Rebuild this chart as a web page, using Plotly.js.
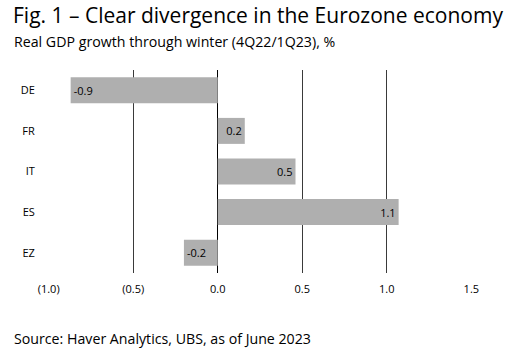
<!DOCTYPE html>
<html>
<head>
<meta charset="utf-8">
<script src="https://cdn.plot.ly/plotly-3.0.1.min.js"></script>
<style>html,body{margin:0;padding:0;background:#fff;}#chart{width:528px;height:363px;}</style>
</head>
<body>
<div id="chart"></div>
<script>
const countries = ["DE", "FR", "IT", "ES", "EZ"];
const growth = [-0.87, 0.16, 0.46, 1.07, -0.2];
const tickValues = [-1.0, -0.5, 0.0, 0.5, 1.0, 1.5];
const tickLabels = ["(1.0)", "(0.5)", "0.0", "0.5", "1.0", "1.5"];
const titleText = "Fig. 1 – Clear divergence in the Eurozone economy";
const subtitleText = "Real GDP growth through winter (4Q22/1Q23), %";
const sourceText = "Source: Haver Analytics, UBS, as of June 2023";

const FONT = "Open Sans, Noto Sans, sans-serif";

const trace = {
  type: "bar",
  orientation: "h",
  y: countries,
  x: growth,
  marker: {color: "#afafaf", line: {width: 0}},
  texttemplate: "%{x:.1f}",
  textposition: "inside",
  insidetextanchor: "end",
  textangle: 0,
  constraintext: "none",
  textfont: {family: FONT, size: 11, color: "#000"},
  hoverinfo: "none",
  cliponaxis: false
};

const layout = {
  width: 528,
  height: 363,
  margin: {l: 48, r: 56, t: 70, b: 90},
  paper_bgcolor: "#fff",
  plot_bgcolor: "#fff",
  showlegend: false,
  bargap: 0.36,
  font: {family: FONT, size: 11, color: "#000"},
  title: {
    text: titleText,
    font: {family: FONT, size: 21, color: "#000"},
    x: 13/528, xanchor: "left", xref: "container",
    y: 1 - 16/363, yanchor: "middle", yref: "container"
  },
  xaxis: {
    range: [-1.004, 1.504],
    tickvals: tickValues,
    ticktext: tickLabels,
    showgrid: true,
    gridcolor: "#3a3a3a",
    gridwidth: 1,
    zeroline: true,
    zerolinecolor: "#000",
    zerolinewidth: 1,
    showline: false,
    ticks: "outside",
    ticklen: 6,
    tickcolor: "rgba(0,0,0,0)",
    tickfont: {family: FONT, size: 11, color: "#000"},
    fixedrange: true
  },
  yaxis: {
    type: "category",
    autorange: "reversed",
    showgrid: false,
    zeroline: false,
    showline: false,
    ticks: "outside",
    ticklen: 10,
    tickcolor: "rgba(0,0,0,0)",
    tickfont: {family: FONT, size: 11, color: "#000"},
    fixedrange: true
  },
  annotations: [
    {
      text: subtitleText,
      xref: "paper", yref: "paper",
      x: (12-48)/424, y: 1 + (70-41)/203,
      xanchor: "left", yanchor: "middle",
      showarrow: false,
      font: {family: FONT, size: 14.2, color: "#000"}
    },
    {
      text: sourceText,
      xref: "paper", yref: "paper",
      x: (12-48)/424, y: -(338-273)/203,
      xanchor: "left", yanchor: "middle",
      showarrow: false,
      font: {family: FONT, size: 14.2, color: "#000"}
    }
  ]
};

Plotly.newPlot("chart", [trace], layout, {displayModeBar: false, staticPlot: true});
</script>
</body>
</html>
